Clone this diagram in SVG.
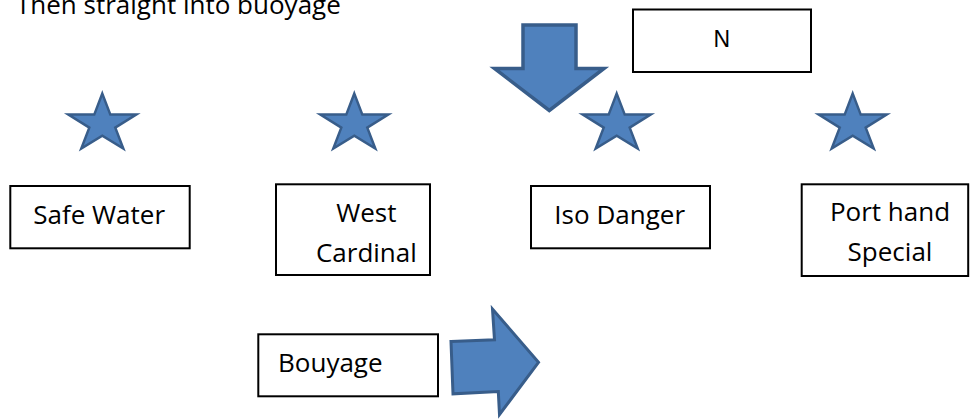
<svg xmlns="http://www.w3.org/2000/svg" width="970" height="419" viewBox="0 0 970 419">
<style>
.box{fill:#fff;stroke:#000;stroke-width:2}
.t{font-family:"Open Sans","Liberation Sans",sans-serif;font-size:26px;fill:#000}
.shape{fill:#4F81BD;stroke:#385D8A;stroke-linejoin:miter}
</style>
<defs>
<path id="star" class="shape" stroke-width="2.5" d="M0,-30.4 L8.03,-9.39 L34,-9.39 L12.98,3.59 L21,24.6 L0,11.61 L-21,24.6 L-12.98,3.59 L-34,-9.39 L-8.03,-9.39 Z"/>
</defs>
<text class="t" x="16" y="14" font-size="25">Then straight into buoyage</text>
<g id="down-arrow">
<polygon class="shape" stroke-width="3.5" points="523,25 576,25 576,68.5 604,68.5 549.3,110.5 494.5,68.5 523,68.5"/>
</g>
<g id="north">
<rect class="box" x="633" y="9.5" width="178" height="62.5"/>
<text x="721.7" y="46.7" text-anchor="middle" font-family="Liberation Sans, Arial, sans-serif" font-size="23">N</text>
</g>
<g id="star-safe-water"><use href="#star" x="102.3" y="124"/></g>
<g id="star-west-cardinal"><use href="#star" x="354.3" y="124"/></g>
<g id="star-iso-danger"><use href="#star" x="616.7" y="124"/></g>
<g id="star-port-hand"><use href="#star" x="852.7" y="124"/></g>
<g id="safe-water">
<rect class="box" x="10.3" y="186" width="179.4" height="62.3"/>
<text class="t" x="99.2" y="224" text-anchor="middle">Safe Water</text>
</g>
<g id="west-cardinal">
<rect class="box" x="276" y="184.3" width="154" height="90.7"/>
<text class="t" x="366.4" y="221.7" text-anchor="middle">West</text>
<text class="t" x="366.4" y="261.7" text-anchor="middle">Cardinal</text>
</g>
<g id="iso-danger">
<rect class="box" x="531" y="186" width="179" height="62.3"/>
<text class="t" x="619.7" y="224" text-anchor="middle">Iso Danger</text>
</g>
<g id="port-hand-special">
<rect class="box" x="801.7" y="184.3" width="166.5" height="91.7"/>
<text class="t" x="890" y="220.5" text-anchor="middle">Port hand</text>
<text class="t" x="890" y="260.5" text-anchor="middle">Special</text>
</g>
<g id="bouyage">
<rect class="box" x="258.3" y="334.3" width="179.7" height="62"/>
<text class="t" x="278" y="371.7">Bouyage</text>
</g>
<g id="connectors">
<polygon class="shape" stroke-width="3" points="451,341.5 494.5,339.8 492.5,309 538.5,362.3 499.5,414.5 498.3,391.5 453,393.8"/>
</g>
</svg>
